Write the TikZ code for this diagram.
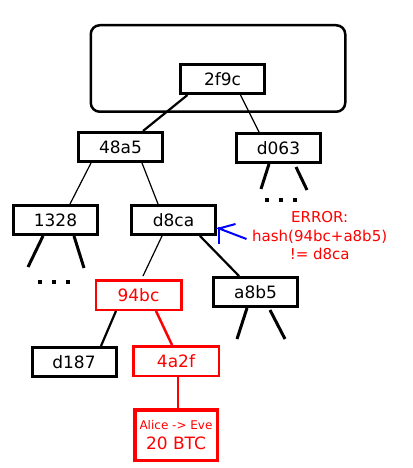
\documentclass[tikz,border=0pt]{standalone}
\usepackage{fontspec}
\setmainfont{DejaVu Sans}
\usetikzlibrary{positioning}

\begin{document}
\begin{tikzpicture}[
    node distance=36pt,
    every node/.style={font=\fontsize{17}{20}\selectfont},
    hsh/.style={rectangle, draw=black, line width=3pt, minimum width=84pt,
                minimum height=29pt, inner sep=0pt},
    hbad/.style={hsh, draw=red, text=red, line width=2.5pt,
                 minimum width=85.5pt, minimum height=29.5pt},
    blk/.style={rectangle, draw=black, line width=2.5pt, rounded corners=9pt,
                minimum width=254.5pt, minimum height=86.5pt},
    lnk/.style={line width=1.2pt},
    lnkb/.style={line width=2.2pt},
    stub/.style={line width=3pt},
    bad/.style={draw=red, line width=2.5pt},
    warn/.style={draw=blue, line width=2pt},
    errtxt/.style={text=red, align=center, inner sep=0pt,
                   font=\fontsize{15}{18.5}\selectfont}
  ]

  \useasboundingbox (0,0) rectangle (412pt,-468pt);

  \node[hsh] (root) at (222.5pt,-79pt) {2f9c};
  \node[blk] (block) at ([xshift=-4.5pt,yshift=10.5pt]root.center) {};

  \node[hsh, below=36pt of root, xshift=-102pt]  (h48a5) {48a5};
  \node[hsh, below=37pt of root, xshift=56pt]    (hd063) {d063};

  \node[hsh, below=41pt of h48a5, xshift=-65pt]  (h1328) {1328};
  \node[hsh, below=41pt of h48a5, xshift=53pt]   (hd8ca) {d8ca};

  \node[hbad, below=43pt of hd8ca, xshift=-35pt] (h94bc) {94bc};
  \node[hsh,  below=40pt of hd8ca, xshift=82pt]  (ha8b5) {a8b5};

  \node[hsh,  below=35pt of h94bc, xshift=-64.5pt] (hd187) {d187};
  \node[hbad, below=34pt of h94bc, xshift=37.5pt]  (h4a2f) {4a2f};

  \node[hbad, line width=3.5pt, minimum width=82.5pt, minimum height=50.5pt,
        align=center, below=31pt of h4a2f] (tx)
        {\fontsize{12}{14}\selectfont Alice -> Eve\\\fontsize{17}{21}\selectfont 20 BTC};

  \node[errtxt, right=35pt of hd8ca, yshift=-16pt] (err)
        {ERROR:\\hash(94bc+a8b5)\\!= d8ca};

  %% Tree links
  \draw[lnkb] ([xshift=-35pt]root.south)  -- ([xshift=22.5pt]h48a5.north);
  \draw[lnk]  ([xshift=18pt]root.south)   -- ([xshift=-19.5pt]hd063.north);
  \draw[lnk]  ([xshift=-29.5pt]h48a5.south) -- ([xshift=14.5pt]h1328.north);
  \draw[lnk]  ([xshift=21.5pt]h48a5.south)  -- ([xshift=-15.5pt]hd8ca.north);
  \draw[lnk]  ([xshift=-11.5pt]hd8ca.south) -- ([xshift=4.5pt,yshift=3pt]h94bc.north);
  \draw[lnkb] ([xshift=26.5pt]hd8ca.south)  -- ([xshift=-16.5pt]ha8b5.north);
  \draw[lnkb] ([xshift=-22.5pt]h94bc.south) -- ([xshift=27pt]hd187.north);

  %% Tampered path
  \draw[bad] ([xshift=17.5pt]h94bc.south) -- ([xshift=-4pt]h4a2f.north);
  \draw[bad] ([xshift=2pt]h4a2f.south)    -- ([xshift=2pt]tx.north);

  %% Cut-off subtrees
  \draw[stub] ([xshift=-9.5pt]hd063.south) -- ++(-8pt,-25pt) coordinate (d063l);
  \draw[stub] ([xshift=17.5pt,yshift=-3pt]hd063.south) -- ++(11pt,-23pt) coordinate (d063r);
  \draw[stub] ([xshift=-12.5pt]h1328.south) -- ++(-15pt,-31pt) coordinate (h1328l);
  \draw[stub] ([xshift=18.5pt]h1328.south)  -- ++(10pt,-32pt) coordinate (h1328r);
  \draw[stub] ([xshift=-8.5pt]ha8b5.south)  -- ++(-10pt,-31pt) coordinate (a8b5l);
  \draw[stub] ([xshift=14.5pt,yshift=-2pt]ha8b5.south) -- ++(15pt,-29pt) coordinate (a8b5r);

  \foreach \i in {0,1,2} {
    \fill ([xshift=-13.5pt+\i*14pt, yshift=-33.7pt]hd063.south) rectangle ++(4pt,-4pt);
    \fill ([xshift=-17.2pt+\i*14pt, yshift=-44pt]h1328.south) rectangle ++(4pt,-4pt);
  }

  %% Error pointer
  \coordinate (tip) at ([xshift=2pt,yshift=-8.5pt]hd8ca.east);
  \draw[warn] ([xshift=16.5pt,yshift=4.5pt]tip) -- (tip) -- ++(27.5pt,-10.5pt);
  \draw[warn] ([xshift=-0.5pt,yshift=1.7pt]tip) -- ++(0,-17pt);

\end{tikzpicture}
\end{document}
